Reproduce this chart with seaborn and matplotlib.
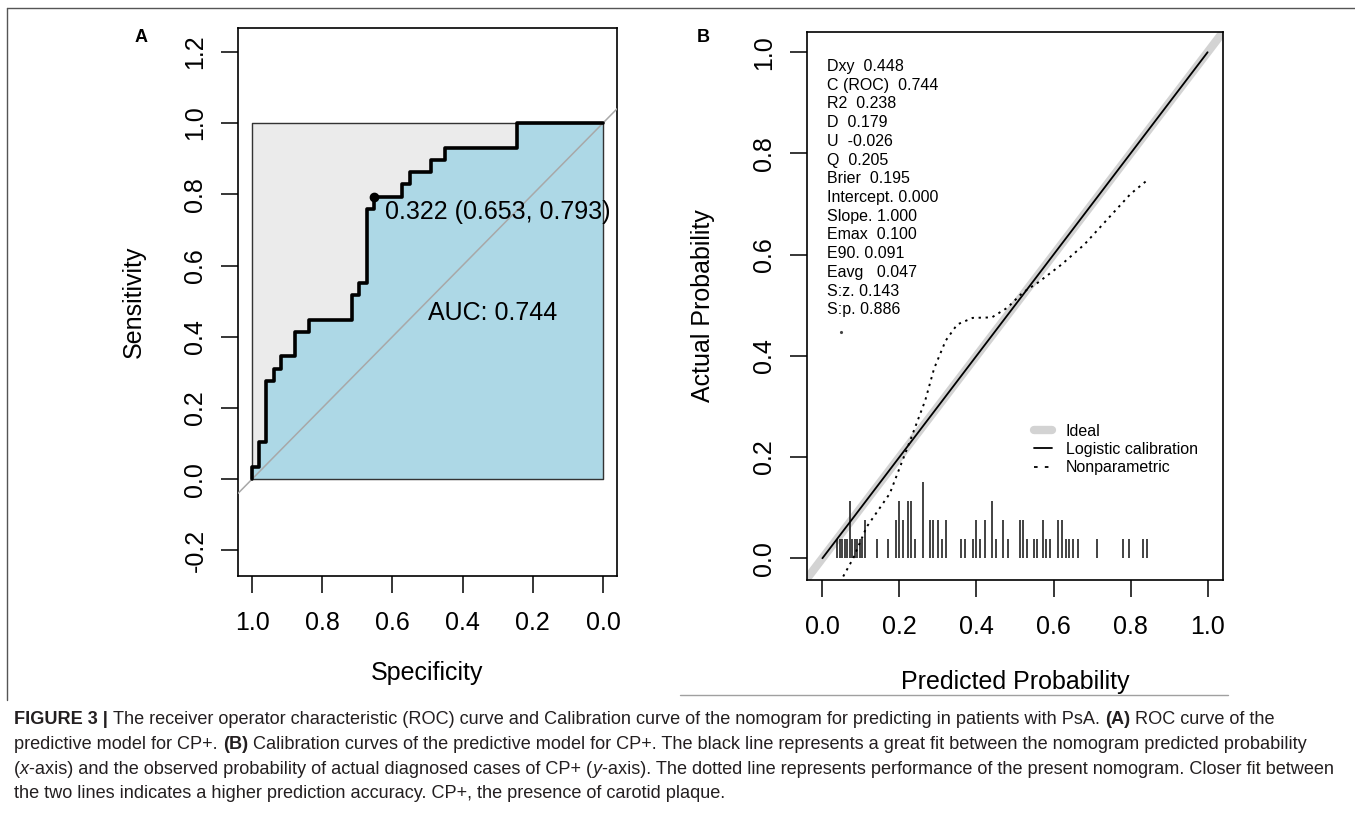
import matplotlib
matplotlib.use("Agg")
import matplotlib.pyplot as plt
import seaborn as sns
import numpy as np
import pandas as pd
from matplotlib.lines import Line2D

# ---- panel A: ROC, step vertices (49 controls, 29 cases)
n_neg, n_pos = 49, 29
roc_fp = [0, 0, 1, 2, 3, 4, 6, 8, 14, 15, 16, 17, 21, 22, 25, 27, 37, 49]
roc_tp = [0, 1, 3, 8, 9, 10, 12, 13, 15, 16, 22, 23, 24, 25, 26, 27, 29, 29]
best_thr, best_spec, best_sens = 0.322, 0.653, 0.793
auc = 0.744

# ---- panel B: calibration
nonpar_x = [0.054, 0.08, 0.115, 0.175, 0.228, 0.267, 0.29, 0.32, 0.35, 0.39,
            0.44, 0.48, 0.52, 0.56, 0.62, 0.68, 0.74, 0.80, 0.84]
nonpar_y = [-0.036, 0.0, 0.062, 0.128, 0.233, 0.312, 0.375, 0.43, 0.462, 0.475,
            0.476, 0.495, 0.525, 0.545, 0.58, 0.62, 0.67, 0.72, 0.745]
logit_x = [0.0, 1.0]
logit_y = [0.0, 1.0]
rug_x = [0.039, 0.045, 0.051, 0.058, 0.064, 0.071, 0.078, 0.084, 0.091, 0.097,
         0.103, 0.110, 0.143, 0.171, 0.191, 0.200, 0.210, 0.222, 0.230, 0.241,
         0.261, 0.280, 0.288, 0.300, 0.310, 0.321, 0.361, 0.371, 0.391, 0.400,
         0.410, 0.421, 0.441, 0.451, 0.469, 0.482, 0.512, 0.521, 0.532, 0.549,
         0.558, 0.573, 0.581, 0.591, 0.612, 0.622, 0.632, 0.641, 0.651, 0.664,
         0.713, 0.781, 0.797, 0.832, 0.842]
rug_n = [1, 1, 1, 1, 1, 3, 1, 1, 1, 1,
         1, 2, 1, 1, 2, 3, 2, 3, 3, 1,
         4, 2, 2, 2, 1, 2, 1, 1, 1, 2,
         1, 2, 3, 1, 2, 1, 2, 2, 1, 1,
         1, 2, 1, 1, 2, 2, 1, 1, 1, 1,
         1, 1, 1, 1, 1]
stat_names = ["Dxy ", "C (ROC) ", "R2 ", "D ", "U ", "Q ", "Brier ", "Intercept.",
              "Slope.", "Emax ", "E90.", "Eavg  ", "S:z.", "S:p."]
stat_values = [0.448, 0.744, 0.238, 0.179, -0.026, 0.205, 0.195, 0.000,
               1.000, 0.100, 0.091, 0.047, 0.143, 0.886]

caption = [
    [("FIGURE 3 | ", "bold", "normal"),
     ("The receiver operator characteristic (ROC) curve and Calibration curve of the nomogram "
      "for predicting in patients with PsA. ", "normal", "normal"),
     ("(A)", "bold", "normal"), (" ROC curve of the", "normal", "normal")],
    [("predictive model for CP+. ", "normal", "normal"), ("(B)", "bold", "normal"),
     (" Calibration curves of the predictive model for CP+. The black line represents a great "
      "fit between the nomogram predicted probability", "normal", "normal")],
    [("(", "normal", "normal"), ("x", "normal", "italic"),
     ("-axis) and the observed probability of actual diagnosed cases of CP+ (", "normal", "normal"),
     ("y", "normal", "italic"),
     ("-axis). The dotted line represents performance of the present nomogram. Closer fit between",
      "normal", "normal")],
    [("the two lines indicates a higher prediction accuracy. CP+, the presence of carotid plaque.",
      "normal", "normal")],
]

sns.set_style("ticks")
plt.rcParams["font.family"] = ["Liberation Sans", "DejaVu Sans"]
for key in ["text.color", "axes.labelcolor", "xtick.color", "ytick.color", "axes.edgecolor"]:
    plt.rcParams[key] = "black"

W, H = 1355, 835
fig = plt.figure(figsize=(W / 100, H / 100), dpi=100)


def px_axes(l, r, t, b):
    return fig.add_axes([l / W, 1 - b / H, (r - l) / W, (b - t) / H])


def style_axes(ax):
    for s in ax.spines.values():
        s.set_linewidth(1.2)
        s.set_color("black")
    ax.tick_params(direction="out", length=12, width=1.1, labelsize=18, color="black")
    ax.tick_params(axis="x", pad=13)
    ax.tick_params(axis="y", pad=10)
    for lab in ax.get_yticklabels():
        lab.set_rotation(90)
        lab.set_va("center")


# ---------------- panel A ----------------
axA = px_axes(238, 617, 28, 576)
fp = np.array(roc_fp, dtype=float)
tp = np.array(roc_tp, dtype=float)
spec_step = 1 - np.repeat(fp, 2)[1:] / n_neg
sens_step = np.repeat(tp, 2)[:-1] / n_pos
roc_df = pd.DataFrame({"spec": spec_step, "sens": sens_step})

axA.fill([1, 0, 0, 1], [0, 0, 1, 1], color="#ebebeb", zorder=1)
axA.fill_between(roc_df["spec"], 0, roc_df["sens"], color="#add8e6", lw=0, zorder=2)
axA.plot([1, 0, 0, 1, 1], [0, 0, 1, 1, 0], color="#333333", lw=1, zorder=3)
axA.axline((1, 0), (0, 1), color="#a8a8a8", lw=1.1, zorder=3)
sns.lineplot(data=roc_df, x="spec", y="sens", sort=False, estimator=None,
             color="black", lw=2.6, ax=axA, zorder=4)
axA.plot([best_spec], [best_sens], "o", color="black", ms=6, zorder=5)
axA.text(0.62, 0.751, f"{best_thr:.3f} ({best_spec:.3f}, {best_sens:.3f})",
         fontsize=18, va="center", ha="left", zorder=6)
axA.text(0.50, 0.467, f"AUC: {auc:.3f}", fontsize=18, va="center", ha="left", zorder=6)

axA.set_xlim(1.04, -0.04)
axA.set_ylim(-0.272, 1.267)
axA.set_xticks([1.0, 0.8, 0.6, 0.4, 0.2, 0.0])
axA.set_xticklabels(["1.0", "0.8", "0.6", "0.4", "0.2", "0.0"])
axA.set_yticks([-0.2, 0.0, 0.2, 0.4, 0.6, 0.8, 1.0, 1.2])
axA.set_yticklabels(["-0.2", "0.0", "0.2", "0.4", "0.6", "0.8", "1.0", "1.2"])
axA.set_xlabel("Specificity", fontsize=18, va="center")
axA.set_ylabel("Sensitivity", fontsize=18, va="center", ha="center")
axA.xaxis.set_label_coords(0.5, -(673 - 576) / 548)
axA.yaxis.set_label_coords(-104 / 379, 0.5)
style_axes(axA)

# ---------------- panel B ----------------
axB = px_axes(807, 1223, 32, 580)
axB.axline((0, 0), (1, 1), color="#d3d3d3", lw=6, zorder=1)
sns.lineplot(x=logit_x, y=logit_y, color="black", lw=1.3, ax=axB, zorder=3)
sns.lineplot(x=nonpar_x, y=nonpar_y, sort=False, estimator=None, color="black",
             lw=1.4, ls=(0, (1.2, 2.4)), ax=axB, zorder=3)
axB.vlines(rug_x, 0, np.array(rug_n) * 0.0375, color="#222222", lw=1.2, zorder=2)
axB.plot([0.047], [0.447], ".", color="#444444", ms=2.5)

for i, (nm, v) in enumerate(zip(stat_names, stat_values)):
    axB.text(0.013, 0.972 - i * 0.037, f"{nm} {v:.3f}", fontsize=11.5,
             va="center", ha="left")

handles = [Line2D([], [], color="#d3d3d3", lw=6),
           Line2D([], [], color="black", lw=1.3),
           Line2D([], [], color="black", lw=1.3, ls=(0, (2, 4)))]
axB.legend(handles, ["Ideal", "Logistic calibration", "Nonparametric"],
           loc="upper left", bbox_to_anchor=(0.545, 0.285), frameon=False,
           fontsize=11.5, handlelength=1.15, handletextpad=0.85,
           labelspacing=0.2, borderpad=0, borderaxespad=0)

axB.set_xlim(-0.04, 1.04)
axB.set_ylim(-0.043, 1.04)
axB.set_xticks([0.0, 0.2, 0.4, 0.6, 0.8, 1.0])
axB.set_xticklabels(["0.0", "0.2", "0.4", "0.6", "0.8", "1.0"])
axB.set_yticks([0.0, 0.2, 0.4, 0.6, 0.8, 1.0])
axB.set_yticklabels(["0.0", "0.2", "0.4", "0.6", "0.8", "1.0"])
axB.set_xlabel("Predicted Probability", fontsize=18, va="center")
axB.set_ylabel("Actual Probability", fontsize=18, va="center", ha="center")
axB.xaxis.set_label_coords(0.5, -(682 - 580) / 548)
axB.yaxis.set_label_coords(-104 / 416, 0.5)
style_axes(axB)

# panel letters
fig.text(141 / W, 1 - 37 / H, "A", fontsize=13, weight="bold", ha="center", va="center")
fig.text(703 / W, 1 - 37 / H, "B", fontsize=13, weight="bold", ha="center", va="center")

# frame lines of the figure page
fig.add_artist(Line2D([7 / W, 1], [1 - 8 / H, 1 - 8 / H], color="#555555", lw=1))
fig.add_artist(Line2D([7 / W, 7 / W], [1 - 8 / H, 1 - 700 / H], color="#555555", lw=1))
fig.add_artist(Line2D([680 / W, 1228 / W], [1 - 695 / H, 1 - 695 / H], color="#a0a0a0", lw=1))

# caption with mixed bold/italic runs
renderer = fig.canvas.get_renderer()
cap_family = ["Liberation Sans"]


def draw_line(runs, y, size):
    x = 14 / W
    for txt, wt, st in runs:
        t = fig.text(x, y, txt, fontsize=size, weight=wt, style=st, family=cap_family,
                     color="#231f20", va="center", ha="left")
        x += t.get_window_extent(renderer).width / W
    return x * W - 14


# size so the widest caption line spans the page like the reference
widest = 0
for runs in caption:
    n0 = len(fig.texts)
    widest = max(widest, draw_line(runs, -1, 10))
    for t in list(fig.texts)[n0:]:
        t.remove()
cap_size = 10 * (1338 - 14) / widest
for i, runs in enumerate(caption):
    draw_line(runs, 1 - (720 + i * 24.5) / H, cap_size)

fig.savefig("out.png", dpi=100)
